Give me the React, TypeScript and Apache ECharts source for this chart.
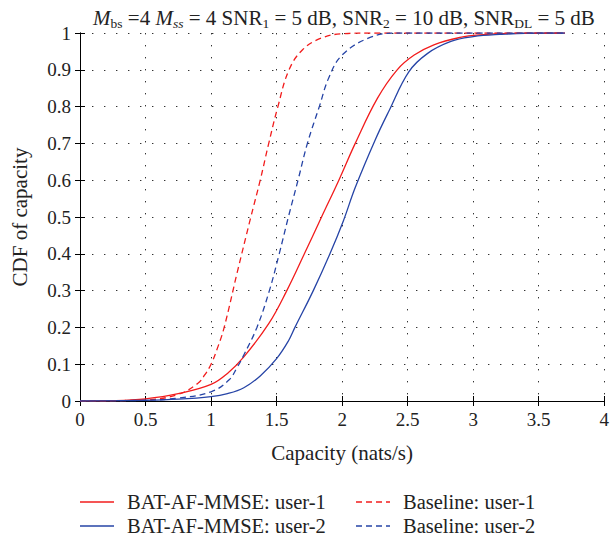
import React, { useEffect, useRef } from "react";
import * as echarts from "echarts";

// ---- data ----
const batUser1X = [0, 0.25, 0.5, 0.75, 1.0, 1.125, 1.25, 1.44, 1.578, 1.712, 1.843, 1.975, 2.1, 2.27, 2.42, 2.55, 2.7, 2.9, 3.05, 3.3, 3.7];
const batUser1Y = [0, 0.001, 0.006, 0.02, 0.045, 0.075, 0.12, 0.21, 0.3, 0.4, 0.5, 0.6, 0.7, 0.823, 0.9, 0.94, 0.968, 0.988, 0.995, 0.999, 1];

const batUser2X = [0, 0.5, 0.75, 1.0, 1.125, 1.25, 1.375, 1.5, 1.59, 1.64, 1.78, 1.907, 2.01, 2.1, 2.253, 2.36, 2.51, 2.65, 2.83, 3.0, 3.2, 3.5, 3.7];
const batUser2Y = [0, 0.002, 0.005, 0.012, 0.02, 0.036, 0.068, 0.115, 0.163, 0.2, 0.3, 0.4, 0.49, 0.58, 0.71, 0.79, 0.895, 0.944, 0.977, 0.99, 0.996, 1, 1];

const baseUser1X = [0, 0.5, 0.75, 0.9, 0.95, 1.0, 1.05, 1.1, 1.2, 1.3, 1.375, 1.44, 1.51, 1.595, 1.7, 1.84, 2.0, 2.2, 3.7];
const baseUser1Y = [0, 0.003, 0.018, 0.048, 0.07, 0.1, 0.145, 0.2, 0.35, 0.495, 0.6, 0.7, 0.8, 0.9, 0.955, 0.986, 0.998, 1, 1];

const baseUser2X = [0, 0.5, 0.75, 1.0, 1.136, 1.2, 1.25, 1.35, 1.445, 1.52, 1.59, 1.667, 1.735, 1.826, 1.9, 2.0, 2.2, 2.4, 3.7];
const baseUser2Y = [0, 0.002, 0.008, 0.025, 0.057, 0.092, 0.125, 0.2, 0.3, 0.4, 0.5, 0.605, 0.7, 0.8, 0.88, 0.94, 0.986, 1, 1];

const seriesNames = ["BAT-AF-MMSE: user-1", "BAT-AF-MMSE: user-2", "Baseline: user-1", "Baseline: user-2"];

const xMin = 0, xMax = 4, xStep = 0.5;
const yMin = 0, yMax = 1, yStep = 0.1;

const FONT = "Liberation Serif";
const TXT = "#222";
const RED = "#f21c1c";
const BLUE = "#2644a6";
const DASH = [6, 4];

const pairs = (xs: number[], ys: number[]) => xs.map((x, i) => [x, ys[i]]);

export default function App() {
  const ref = useRef<HTMLDivElement>(null);
  useEffect(() => {
    if (!ref.current) return;
    const chart = echarts.init(ref.current, null, { renderer: "svg" });
    const grid = { color: "#333", type: [1.4, 10.6] as any, width: 1 };
    const mkSeries = (name: string, xs: number[], ys: number[], color: string, dashed: boolean) => ({
      name,
      type: "line",
      data: pairs(xs, ys),
      symbol: "none",
      smooth: 0.4,
      lineStyle: { color, width: 1.3, type: dashed ? DASH : "solid" },
      itemStyle: { color },
    });
    const legendItems = [
      { name: seriesNames[0], color: RED, dashed: false, x: 80, y: 502 },
      { name: seriesNames[1], color: BLUE, dashed: false, x: 80, y: 526 },
      { name: seriesNames[2], color: RED, dashed: true, x: 356, y: 502 },
      { name: seriesNames[3], color: BLUE, dashed: true, x: 356, y: 526 },
    ];
    const graphic: any[] = [];
    legendItems.forEach((it) => {
      graphic.push({
        type: "line",
        shape: { x1: it.x, y1: it.y, x2: it.x + 34, y2: it.y },
        style: { stroke: it.color, lineWidth: 1.3, lineDash: it.dashed ? DASH : null },
        silent: true,
      });
      graphic.push({
        type: "text",
        x: it.x + 47,
        y: it.y,
        style: { text: it.name, font: `20.5px "${FONT}"`, fill: TXT, textVerticalAlign: "middle", verticalAlign: "middle" },
        silent: true,
      });
    });
    const sub = { fontFamily: FONT, fontSize: 13.5, fontWeight: "normal", color: TXT, padding: [11, 0, 0, 0] };
    chart.setOption({
      animation: false,
      backgroundColor: "#fff",
      title: {
        left: 339,
        textAlign: "center",
        top: 0,
        text:
          "{it|M}{sub|bs}{n| =4 }{it|M}{subit|ss}{n| = 4 SNR}{sub|1}{n| = 5 dB, SNR}{sub|2}{n| = 10 dB, SNR}{sub|DL}{n| = 5 dB}",
        textStyle: {
          fontWeight: "normal",
          rich: {
            n: { fontFamily: FONT, fontSize: 21, fontWeight: "normal", color: TXT },
            it: { fontFamily: FONT, fontSize: 21, fontStyle: "italic", fontWeight: "normal", color: TXT },
            sub,
            subit: { ...sub, fontStyle: "italic" },
          },
        },
      },
      grid: { left: 80, right: 5, top: 33, bottom: 140, show: false },
      graphic,
      xAxis: [
        {
          type: "value",
          min: xMin,
          max: xMax,
          interval: xStep,
          name: "Capacity (nats/s)",
          nameLocation: "middle",
          nameGap: 41,
          nameTextStyle: { fontFamily: FONT, fontSize: 21, color: TXT },
          axisLine: { show: true, lineStyle: { color: "#000", width: 1 } },
          axisTick: { show: true, inside: true, length: 5, lineStyle: { color: "#000" } },
          axisLabel: { fontFamily: FONT, fontSize: 19, color: TXT, margin: 9 },
          splitLine: { show: true, lineStyle: grid },
        },
        {
          type: "value",
          position: "top",
          min: xMin,
          max: xMax,
          interval: xStep,
          axisLine: { show: true, lineStyle: { color: "#000", width: 1 } },
          axisTick: { show: true, inside: true, length: 5, lineStyle: { color: "#000" } },
          axisLabel: { show: false },
          splitLine: { show: false },
        },
      ],
      yAxis: [
        {
          type: "value",
          min: yMin,
          max: yMax,
          interval: yStep,
          name: "CDF of capacity",
          nameLocation: "middle",
          nameGap: 50,
          nameTextStyle: { fontFamily: FONT, fontSize: 21, color: TXT },
          axisLine: { show: true, lineStyle: { color: "#000", width: 1 } },
          axisTick: { show: true, inside: true, length: 5, lineStyle: { color: "#000" } },
          axisLabel: { fontFamily: FONT, fontSize: 19, color: TXT, margin: 9 },
          splitLine: { show: true, lineStyle: grid },
        },
        {
          type: "value",
          position: "right",
          min: yMin,
          max: yMax,
          interval: yStep,
          axisLine: { show: true, lineStyle: { color: "#000", width: 1 } },
          axisTick: { show: true, inside: true, length: 5, lineStyle: { color: "#000" } },
          axisLabel: { show: false },
          splitLine: { show: false },
        },
      ],
      series: [
        mkSeries(seriesNames[0], batUser1X, batUser1Y, RED, false),
        mkSeries(seriesNames[1], batUser2X, batUser2Y, BLUE, false),
        mkSeries(seriesNames[2], baseUser1X, baseUser1Y, RED, true),
        mkSeries(seriesNames[3], baseUser2X, baseUser2Y, BLUE, true),
      ],
    });
    return () => chart.dispose();
  }, []);
  return <div ref={ref} style={{ width: 612, height: 541, position: "absolute", left: 0, top: 0 }} />;
}
